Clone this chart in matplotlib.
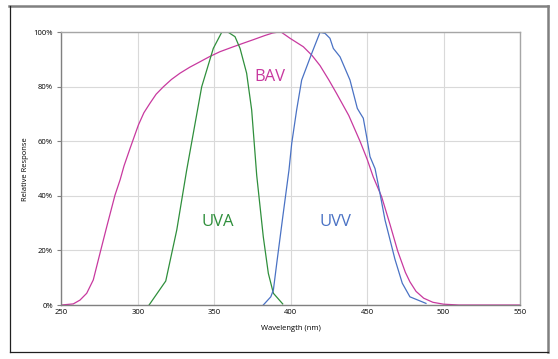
import matplotlib
matplotlib.use('Agg')
import matplotlib.pyplot as plt
from matplotlib.ticker import FuncFormatter

# BAV curve (wavelength nm, relative response %)
bav_nm = [250, 257.8, 262.2, 266.6, 270.9, 275.3, 279.7, 285.1, 288.5, 291, 295, 300.4, 304,
          308, 312, 316.7, 322, 327.6, 334, 340.7, 347, 353.8, 362, 369, 375.6, 383, 388,
          391, 394, 399.6, 408.3, 414, 419.2, 425, 430, 438, 445.4, 450, 454, 459.5, 465,
          470, 475, 478, 482, 487, 493, 500, 510, 550]
bav_val = [0, 0.4, 1.8, 4.3, 9.2, 19, 28.7, 40.3, 46, 51, 57.5, 66, 70.5, 74, 77.3, 80,
           82.7, 85, 87.2, 89.2, 91.1, 92.9, 94.6, 96, 97.3, 98.8, 99.7, 100, 100, 97.8,
           94.7, 91.5, 87.8, 82.5, 77.6, 69.5, 60, 53.5, 47, 39.7, 29.5, 19.8, 12, 8.5,
           5, 2.5, 1, 0.3, 0, 0]

# UVA curve
uva_nm = [307.4, 318.3, 325.5, 332, 341.8, 349.4, 354.9, 359.2, 363.6, 366.9, 371.2,
          374.5, 377.8, 382.1, 385.4, 388.7, 394.8]
uva_val = [0, 8.8, 27.5, 49.5, 80, 94.1, 100, 100, 98.4, 94.1, 85, 71.5, 47.5, 25, 11.6,
           4.3, 0.4]

# UVV curve
uvv_nm = [382.1, 387, 388.7, 390.9, 395, 398.9, 400.7, 403.9, 407.2, 413.8, 419.2, 422.5,
          425.7, 427.9, 432.3, 438.8, 443.6, 445.4, 447.5, 449.7, 451.9, 455.2, 458.4,
          461.7, 468.2, 473, 478, 488.5]
uvv_val = [0, 3, 5.5, 15.3, 33, 49.5, 59.3, 71.5, 82.5, 92.3, 100, 99.6, 97.8, 94.1, 91,
           82.5, 72.1, 70.4, 68.5, 61.7, 54.4, 50, 41, 31.2, 16.8, 8, 3, 0.6]

x_ticks = [250, 300, 350, 400, 450, 500, 550]
y_ticks = [0, 20, 40, 60, 80, 100]

c_bav = '#c8399f'
c_uva = '#2f8f3c'
c_uvv = '#4a72c4'

plt.rcParams['font.family'] = ['Open Sans', 'DejaVu Sans']

fig = plt.figure(figsize=(5.58, 3.59), dpi=100)
ax = fig.add_axes([0.1099, 0.1504, 0.8220, 0.7596])

# outer chart frame: grey top/right, dark left/bottom
fig.add_artist(plt.Line2D([9 / 558, 548 / 558], [1 - 5.5 / 359] * 2,
                          transform=fig.transFigure, color='#808080', lw=1.8))
fig.add_artist(plt.Line2D([548 / 558] * 2, [1 - 5.5 / 359, 1 - 352 / 359],
                          transform=fig.transFigure, color='#808080', lw=1.8))
fig.add_artist(plt.Line2D([9.5 / 558] * 2, [1 - 6 / 359, 1 - 352 / 359],
                          transform=fig.transFigure, color='#202020', lw=0.9))
fig.add_artist(plt.Line2D([9.5 / 558, 548 / 558], [1 - 352 / 359] * 2,
                          transform=fig.transFigure, color='#202020', lw=0.9))

ax.plot(bav_nm, bav_val, color=c_bav, lw=0.9)
ax.plot(uva_nm, uva_val, color=c_uva, lw=0.9)
ax.plot(uvv_nm, uvv_val, color=c_uvv, lw=0.9)

ax.text(386.5, 83.6, 'BAV', color=c_bav, fontsize=12, ha='center', va='center')
ax.text(352.5, 30.3, 'UVA', color=c_uva, fontsize=12, ha='center', va='center')
ax.text(429.5, 30.3, 'UVV', color=c_uvv, fontsize=12, ha='center', va='center')

ax.set_xlim(250, 550)
ax.set_ylim(0, 100)
ax.set_xticks(x_ticks)
ax.set_yticks(y_ticks)
ax.yaxis.set_major_formatter(FuncFormatter(lambda v, p: f'{int(v)}%'))
ax.grid(True, color='#d9d9d9', lw=0.8)
ax.set_axisbelow(True)
ax.tick_params(labelsize=5.5, length=3, width=0.8, color='#808080', pad=3)
ax.tick_params(axis='x', length=0)
ax.spines['left'].set_color('#808080')
ax.spines['bottom'].set_color('#808080')
ax.spines['top'].set_color('#a6a6a6')
ax.spines['right'].set_color('#a6a6a6')
for s in ax.spines.values():
    s.set_linewidth(1.0)

ax.set_xlabel('Wavelength (nm)', fontsize=5.5, labelpad=6)
ax.set_ylabel('Relative Response', fontsize=5.5, labelpad=3)

fig.savefig('out.png', dpi=100)
